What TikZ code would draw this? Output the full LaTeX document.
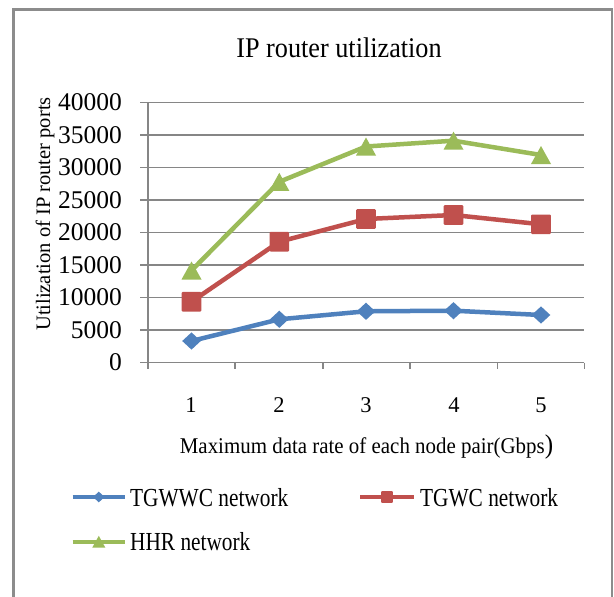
\documentclass[tikz,border=0pt]{standalone}
\usepackage{fontspec}
\setmainfont{Liberation Serif}
\newfontfamily\titlefont[FakeStretch=0.92]{Liberation Serif}
\newfontfamily\legfont[FakeStretch=0.82]{Liberation Serif}
\newfontfamily\axfont[FakeStretch=0.93]{Liberation Serif}
\definecolor{sblue}{HTML}{4F81BD}
\definecolor{sred}{HTML}{C0504D}
\definecolor{sgreen}{HTML}{9BBB59}
\definecolor{gridgray}{HTML}{868686}
\definecolor{framegray}{HTML}{8C8C8C}
\begin{document}
\begin{tikzpicture}[x=1pt,y=-1pt,
  gridline/.style={draw=gridgray,line width=1.6pt},
  axisline/.style={draw=gridgray,line width=1.6pt},
  ylab/.style={anchor=east,inner sep=0pt,font=\fontsize{25.5}{30}\selectfont},
  xlab/.style={anchor=base,inner sep=0pt,font=\fontsize{22.5}{27}\selectfont},
  legtext/.style={anchor=base west,inner sep=0pt,font=\legfont\fontsize{26}{30}\selectfont},
  bline/.style={draw=sblue,line width=4.5pt,line join=round},
  rline/.style={draw=sred,line width=4.5pt,line join=round},
  gline/.style={draw=sgreen,line width=4.5pt,line join=round},
  bdiam/.pic={\fill[sblue] (-9.3,0)--(0,-8.6)--(9.3,0)--(0,8.6)--cycle;},
  rsq/.pic={\fill[sred,rounded corners=1pt] (-9.8,-9.8) rectangle (9.8,9.8);},
  gtri/.pic={\fill[sgreen] (-10,9)--(10,9)--(0,-9)--cycle;}
]
\useasboundingbox (0,0) rectangle (614,597);
\fill[white] (0,0) rectangle (614,597);
% outer frame
\draw[framegray,line width=2.2pt] (13.5,600) -- (13.5,9.5) -- (612,9.5) -- (612,600);
% title
\node[anchor=base,inner sep=0pt] (title) at (339,57.3) {\titlefont\fontsize{28.5}{32}\selectfont IP router utilization};
% gridlines
\foreach \v in {1,...,8}
  \draw[gridline] (140,{362.5-32.5*\v}) -- (584.3,{362.5-32.5*\v});
% axes
\draw[axisline] (147.7,102.7) -- (147.7,368.5);
\draw[axisline] (140,362.5) -- (584.3,362.5);
\foreach \x in {147.7,235,322.7,410,497.3,584.3}
  \draw[axisline] (\x,362.5) -- (\x,368.5);
% y tick labels
\foreach \v/\t in {0/0,1/5000,2/10000,3/15000,4/20000,5/25000,6/30000,7/35000,8/40000}
  \node[ylab] at (122,{362.5-32.5*\v}) {\t};
% x tick labels
\foreach \i/\x in {1/191,2/279,3/366,4/454,5/541}
  \node[xlab] at (\x,412.3) {\i};
% axis titles
\node[anchor=base,inner sep=0pt] (xtitle) at (366.5,453.3) {\axfont\fontsize{22.5}{27}\selectfont Maximum data rate of each node pair(Gbps{\fontsize{27}{30}\selectfont)}};
\node[rotate=90,inner sep=0pt] (ytitle) at (45,214) {\fontsize{20.5}{24}\selectfont Utilization of IP router ports};
% data points
\coordinate (b1) at (191.5,341.0);
\coordinate (b2) at (279.3,319.3);
\coordinate (b3) at (366,311.3);
\coordinate (b4) at (453.5,310.7);
\coordinate (b5) at (541,315.0);
\coordinate (r1) at (191.5,301.7);
\coordinate (r2) at (279.3,241.7);
\coordinate (r3) at (366,219.0);
\coordinate (r4) at (453.5,215.0);
\coordinate (r5) at (541,224.3);
\coordinate (g1) at (191.5,270.5);
\coordinate (g2) at (279.3,181.8);
\coordinate (g3) at (366,146.5);
\coordinate (g4) at (453.5,140.7);
\coordinate (g5) at (541,155.0);
% series lines
\draw[gline] (g1) -- (g2) -- (g3) -- (g4) -- (g5);
\draw[rline] (r1) -- (r2) -- (r3) -- (r4) -- (r5);
\draw[bline] (b1) -- (b2) -- (b3) -- (b4) -- (b5);
% markers
\foreach \p in {g1,g2,g3,g4,g5} \pic at (\p) {gtri};
\foreach \p in {r1,r2,r3,r4,r5} \pic at (\p) {rsq};
\foreach \p in {b1,b2,b3,b4,b5} \pic at (\p) {bdiam};
% legend
\coordinate (lb1) at (72.5,497);
\coordinate (lb2) at (125,497);
\coordinate (lbm) at (98.8,497);
\coordinate (lr1) at (360,497);
\coordinate (lr2) at (414,497);
\coordinate (lrm) at (387,497);
\coordinate (lg1) at (72.5,541.7);
\coordinate (lg2) at (125,541.7);
\coordinate (lgm) at (98.8,541.7);
\draw[bline,line width=4pt] (lb1) -- (lb2);
\draw[rline,line width=4pt] (lr1) -- (lr2);
\draw[gline,line width=4pt] (lg1) -- (lg2);
\pic[scale=0.62] at (lbm) {bdiam};
\pic[scale=0.6] at (lrm) {rsq};
\pic[scale=0.65] at (lgm) {gtri};
\node[legtext] (legb) at (130,506) {TGWWC network};
\node[legtext] (legr) at (420,506) {TGWC network};
\node[legtext] (legg) at (130,550.3) {HHR network};
\end{tikzpicture}
\end{document}
